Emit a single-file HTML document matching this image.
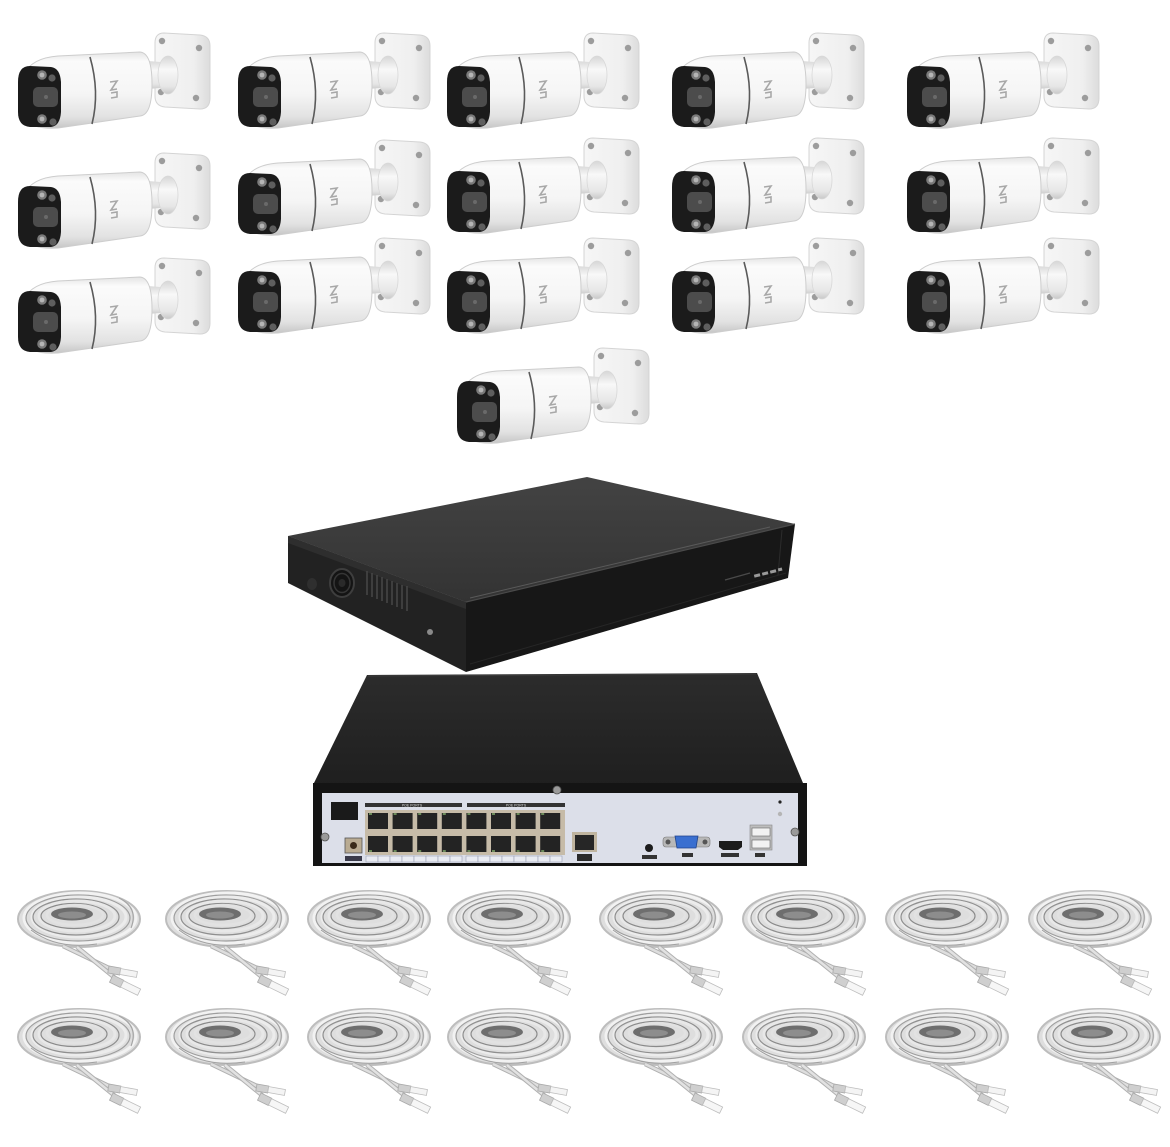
<!DOCTYPE html>
<html>
<head>
<meta charset="utf-8">
<style>
html,body{margin:0;padding:0;background:#ffffff;}
body{width:1170px;height:1147px;overflow:hidden;font-family:"Liberation Sans",sans-serif;}
svg{display:block;}
</style>
</head>
<body>
<svg width="1170" height="1147" viewBox="0 0 1170 1147" xmlns="http://www.w3.org/2000/svg">
<defs>
  <linearGradient id="bodyG" x1="0" y1="0" x2="0" y2="1">
    <stop offset="0" stop-color="#e4e4e4"/>
    <stop offset="0.12" stop-color="#fbfbfb"/>
    <stop offset="0.55" stop-color="#f5f5f5"/>
    <stop offset="0.85" stop-color="#e2e2e2"/>
    <stop offset="1" stop-color="#c6c6c6"/>
  </linearGradient>
  <linearGradient id="armG" x1="0" y1="0" x2="0" y2="1">
    <stop offset="0" stop-color="#d6d6d6"/>
    <stop offset="0.35" stop-color="#f8f8f8"/>
    <stop offset="0.8" stop-color="#e6e6e6"/>
    <stop offset="1" stop-color="#c8c8c8"/>
  </linearGradient>
  <linearGradient id="plateG" x1="0" y1="0" x2="1" y2="0">
    <stop offset="0" stop-color="#f6f6f6"/>
    <stop offset="0.7" stop-color="#efefef"/>
    <stop offset="1" stop-color="#dcdcdc"/>
  </linearGradient>
  <linearGradient id="topG" x1="0" y1="0" x2="0" y2="1">
    <stop offset="0" stop-color="#434343"/>
    <stop offset="1" stop-color="#333333"/>
  </linearGradient>
  <linearGradient id="top2G" x1="0" y1="0" x2="0" y2="1">
    <stop offset="0" stop-color="#2c2c2c"/>
    <stop offset="1" stop-color="#1f1f1f"/>
  </linearGradient>

  <g id="cam">
    <!-- mounting plate -->
    <path d="M146,1 L182,3 Q192,4 192,14 L192,66 Q192,77 182,77 L147,75 Q137,74 137,64 L137,11 Q137,1 146,1 Z" fill="url(#plateG)" stroke="#d4d4d4" stroke-width="1"/>
    <circle cx="144" cy="9" r="3.2" fill="#9c9c9c"/>
    <circle cx="181" cy="16" r="3.2" fill="#9c9c9c"/>
    <circle cx="143" cy="60" r="3.2" fill="#9c9c9c"/>
    <circle cx="178" cy="66" r="3.2" fill="#9c9c9c"/>
    <!-- arm -->
    <path d="M118,28 L142,30 L142,56 L118,58 Z" fill="url(#armG)"/>
    <ellipse cx="150" cy="43" rx="10" ry="19" fill="url(#armG)" stroke="#d8d8d8" stroke-width="0.8"/>
    <!-- body -->
    <path d="M6,42 Q14,26 40,24 L122,20 Q134,21 134,52 Q134,83 122,84 L40,96 Q10,98 3,82 Z" fill="url(#bodyG)" stroke="#cdcdcd" stroke-width="1"/>
    <!-- division line -->
    <path d="M72,25 Q82,60 74,92" fill="none" stroke="#5a5a5a" stroke-width="1.6"/>
    <!-- logo -->
    <path d="M92,50 L99,49 L93,58 L99,57 M93,61 L99,60 L99,65 L93,66" fill="none" stroke="#a8a8a8" stroke-width="1.6"/>
    <!-- face -->
    <path d="M12,34 L33,35 Q42,36 43,50 L43,80 Q42,94 33,95 L12,95 Q0,94 0,80 L0,50 Q0,34 12,34 Z" fill="#1b1b1b"/>
    <rect x="15" y="55" width="25" height="20" rx="5" fill="#4c4c4c"/>
    <circle cx="28" cy="65" r="2" fill="#6a6a6a"/>
    <circle cx="24" cy="43" r="4.8" fill="#7a7a7a"/>
    <circle cx="24" cy="43" r="2.4" fill="#b5b5b5"/>
    <circle cx="34" cy="46" r="3.6" fill="#5e5e5e"/>
    <circle cx="24" cy="87" r="4.8" fill="#7a7a7a"/>
    <circle cx="24" cy="87" r="2.4" fill="#b5b5b5"/>
    <circle cx="35" cy="90" r="3.6" fill="#5e5e5e"/>
  </g>

  <g id="cable">
    <ellipse cx="62" cy="29" rx="61" ry="28" fill="#dedede" stroke="#bdbdbd" stroke-width="2"/>
    <ellipse cx="63" cy="28" rx="56" ry="25" fill="none" stroke="#f2f2f2" stroke-width="3"/>
    <ellipse cx="61" cy="28" rx="52" ry="23" fill="none" stroke="#9e9e9e" stroke-width="1.2"/>
    <ellipse cx="62" cy="27" rx="47" ry="20" fill="none" stroke="#ececec" stroke-width="3"/>
    <ellipse cx="59" cy="27" rx="43" ry="18" fill="none" stroke="#8f8f8f" stroke-width="1.2"/>
    <ellipse cx="60" cy="26" rx="38" ry="15" fill="none" stroke="#e8e8e8" stroke-width="3"/>
    <ellipse cx="57" cy="26" rx="33" ry="12.5" fill="none" stroke="#8a8a8a" stroke-width="1.2"/>
    <ellipse cx="58" cy="25" rx="28" ry="10" fill="none" stroke="#e2e2e2" stroke-width="2.5"/>
    <ellipse cx="55" cy="24" rx="21" ry="6.5" fill="#6e6e6e"/>
    <ellipse cx="55" cy="25" rx="14" ry="3.5" fill="#8d8d8d"/>
    <path d="M102,8 Q122,18 114,38" fill="none" stroke="#a5a5a5" stroke-width="1.2"/>
    <path d="M14,40 Q40,60 80,54" fill="none" stroke="#a0a0a0" stroke-width="1.1"/>
    <!-- tails -->
    <path d="M46,56 L94,79" stroke="#b0b0b0" stroke-width="4.5" fill="none"/>
    <path d="M46,56 L94,79" stroke="#dedede" stroke-width="2.5" fill="none"/>
    <path d="M60,57 L98,88" stroke="#b0b0b0" stroke-width="4.5" fill="none"/>
    <path d="M60,57 L98,88" stroke="#e2e2e2" stroke-width="2.5" fill="none"/>
    <!-- connectors -->
    <g transform="translate(92,76) rotate(10)">
      <rect x="0" y="0" width="12" height="7" fill="#cfcfcf" stroke="#a9a9a9" stroke-width="0.8"/>
      <rect x="12" y="0.5" width="17" height="6" fill="#f4f4f4" stroke="#bdbdbd" stroke-width="0.8"/>
    </g>
    <g transform="translate(96,85) rotate(26)">
      <rect x="0" y="0" width="12" height="8" fill="#cfcfcf" stroke="#a9a9a9" stroke-width="0.8"/>
      <rect x="12" y="0.5" width="19" height="7" fill="#f6f6f6" stroke="#bdbdbd" stroke-width="0.8"/>
    </g>
  </g>
</defs>

<rect width="1170" height="1147" fill="#ffffff"/>

<!-- cameras -->
<use href="#cam" transform="translate(18,32)"/>
<use href="#cam" transform="translate(238,32)"/>
<use href="#cam" transform="translate(447,32)"/>
<use href="#cam" transform="translate(672,32)"/>
<use href="#cam" transform="translate(907,32)"/>

<use href="#cam" transform="translate(18,152)"/>
<use href="#cam" transform="translate(238,139)"/>
<use href="#cam" transform="translate(447,137)"/>
<use href="#cam" transform="translate(672,137)"/>
<use href="#cam" transform="translate(907,137)"/>

<use href="#cam" transform="translate(18,257)"/>
<use href="#cam" transform="translate(238,237)"/>
<use href="#cam" transform="translate(447,237)"/>
<use href="#cam" transform="translate(672,237)"/>
<use href="#cam" transform="translate(907,237)"/>

<use href="#cam" transform="translate(457,347)"/>

<!-- NVR 1 (top/front view) -->
<polygon points="288,536 587,477 795,524 466,602" fill="url(#topG)"/>
<polygon points="288,536 466,602 466,672 288,583" fill="#222222"/>
<polygon points="288,536 466,602 466,609 288,543" fill="#2e2e2e"/>
<polygon points="466,602 795,524 788,578 466,672" fill="#171717"/>
<line x1="470" y1="598" x2="770" y2="527" stroke="#5a5a5a" stroke-width="1"/>
<line x1="466" y1="602" x2="795" y2="524" stroke="#4a4a4a" stroke-width="1.2"/>
<line x1="470" y1="664" x2="786" y2="573" stroke="#262626" stroke-width="1"/>
<line x1="782" y1="530" x2="778" y2="575" stroke="#2c2c2c" stroke-width="1"/>
<!-- power button -->
<ellipse cx="312" cy="584" rx="5" ry="6" fill="#2f2f2f"/>
<!-- fan -->
<ellipse cx="342" cy="583" rx="12" ry="14" fill="#141414" stroke="#3e3e3e" stroke-width="2"/>
<ellipse cx="342" cy="583" rx="8" ry="9.5" fill="none" stroke="#363636" stroke-width="1.5"/>
<ellipse cx="342" cy="583" rx="3.5" ry="4" fill="#2a2a2a"/>
<!-- vents -->
<g stroke="#454545" stroke-width="1.6">
  <line x1="367" y1="571" x2="367" y2="595"/>
  <line x1="372" y1="573" x2="372" y2="597"/>
  <line x1="377" y1="575" x2="377" y2="599"/>
  <line x1="382" y1="577" x2="382" y2="601"/>
  <line x1="387" y1="579" x2="387" y2="603"/>
  <line x1="392" y1="581" x2="392" y2="605"/>
  <line x1="397" y1="583" x2="397" y2="607"/>
  <line x1="402" y1="585" x2="402" y2="609"/>
  <line x1="407" y1="586" x2="407" y2="611"/>
</g>
<circle cx="430" cy="632" r="3" fill="#8a8a8a"/>
<!-- front buttons -->
<line x1="725" y1="580" x2="750" y2="573" stroke="#4a4a4a" stroke-width="1.2"/>
<g fill="#9a9a9a">
  <rect x="754" y="574" width="6" height="3" transform="rotate(-14 757 575)"/>
  <rect x="762" y="572" width="6" height="3" transform="rotate(-14 765 573)"/>
  <rect x="770" y="570" width="6" height="3" transform="rotate(-14 773 571)"/>
  <rect x="778" y="568" width="4" height="3" transform="rotate(-14 780 569)"/>
</g>

<!-- NVR 2 (back view) -->
<polygon points="367,675 757,673 803,783 313,785" fill="url(#top2G)"/>
<line x1="368" y1="676" x2="756" y2="674" stroke="#3c3c3c" stroke-width="1"/>
<rect x="313" y="783" width="494" height="83" fill="#141414"/>
<rect x="322" y="793" width="476" height="70" fill="#dcdfe9"/>
<!-- screws -->
<circle cx="325" cy="837" r="4" fill="#9a9a9a" stroke="#555" stroke-width="0.8"/>
<circle cx="557" cy="790" r="4" fill="#9a9a9a" stroke="#555" stroke-width="0.8"/>
<circle cx="795" cy="832" r="4" fill="#9a9a9a" stroke="#555" stroke-width="0.8"/>
<!-- power box -->
<rect x="331" y="802" width="27" height="18" fill="#1a1a1a"/>
<!-- DC jack -->
<rect x="345" y="838" width="17" height="15" fill="#b9ab92" stroke="#555" stroke-width="0.8"/>
<circle cx="353.5" cy="845.5" r="3.5" fill="#3a2a1a"/>
<rect x="345" y="856" width="17" height="5" fill="#3a3a4a"/>
<!-- RJ45 block -->
<rect x="365" y="810" width="200" height="45" fill="#c6bba8"/>
<rect x="365" y="803" width="97" height="4" fill="#333"/>
<rect x="467" y="803" width="98" height="4" fill="#333"/>
<text x="412" y="806.5" font-size="3.5" fill="#ddd" text-anchor="middle" font-family="Liberation Sans, sans-serif">POE PORTS</text>
<text x="516" y="806.5" font-size="3.5" fill="#ddd" text-anchor="middle" font-family="Liberation Sans, sans-serif">POE PORTS</text>
<g fill="#232323">
  <rect x="368" y="813" width="20" height="16"/>
  <rect x="392.6" y="813" width="20" height="16"/>
  <rect x="417.2" y="813" width="20" height="16"/>
  <rect x="441.8" y="813" width="20" height="16"/>
  <rect x="466.4" y="813" width="20" height="16"/>
  <rect x="491" y="813" width="20" height="16"/>
  <rect x="515.6" y="813" width="20" height="16"/>
  <rect x="540.2" y="813" width="20" height="16"/>
  <rect x="368" y="836" width="20" height="16"/>
  <rect x="392.6" y="836" width="20" height="16"/>
  <rect x="417.2" y="836" width="20" height="16"/>
  <rect x="441.8" y="836" width="20" height="16"/>
  <rect x="466.4" y="836" width="20" height="16"/>
  <rect x="491" y="836" width="20" height="16"/>
  <rect x="515.6" y="836" width="20" height="16"/>
  <rect x="540.2" y="836" width="20" height="16"/>
</g>
<g fill="#6b8a5a">
  <rect x="369" y="813" width="3" height="2"/><rect x="393.6" y="813" width="3" height="2"/>
  <rect x="418.2" y="813" width="3" height="2"/><rect x="442.8" y="813" width="3" height="2"/>
  <rect x="467.4" y="813" width="3" height="2"/><rect x="492" y="813" width="3" height="2"/>
  <rect x="516.6" y="813" width="3" height="2"/><rect x="541.2" y="813" width="3" height="2"/>
  <rect x="369" y="850" width="3" height="2"/><rect x="393.6" y="850" width="3" height="2"/>
  <rect x="418.2" y="850" width="3" height="2"/><rect x="442.8" y="850" width="3" height="2"/>
  <rect x="467.4" y="850" width="3" height="2"/><rect x="492" y="850" width="3" height="2"/>
  <rect x="516.6" y="850" width="3" height="2"/><rect x="541.2" y="850" width="3" height="2"/>
</g>
<g fill="#e9ebf2" stroke="#9aa0b4" stroke-width="0.6">
  <rect x="366" y="856" width="12" height="6"/><rect x="378" y="856" width="12" height="6"/>
  <rect x="390" y="856" width="12" height="6"/><rect x="402" y="856" width="12" height="6"/>
  <rect x="414" y="856" width="12" height="6"/><rect x="426" y="856" width="12" height="6"/>
  <rect x="438" y="856" width="12" height="6"/><rect x="450" y="856" width="12" height="6"/>
  <rect x="466" y="856" width="12" height="6"/><rect x="478" y="856" width="12" height="6"/>
  <rect x="490" y="856" width="12" height="6"/><rect x="502" y="856" width="12" height="6"/>
  <rect x="514" y="856" width="12" height="6"/><rect x="526" y="856" width="12" height="6"/>
  <rect x="538" y="856" width="12" height="6"/><rect x="550" y="856" width="12" height="6"/>
</g>
<!-- LAN port -->
<rect x="572" y="832" width="25" height="20" fill="#bfb49f"/>
<rect x="575" y="835" width="19" height="15" fill="#262626"/>
<rect x="577" y="854" width="15" height="7" fill="#2a2a2a"/>
<!-- audio -->
<circle cx="649" cy="848" r="4" fill="#1c1c1c"/>
<rect x="642" y="855" width="15" height="4" fill="#333"/>
<!-- VGA -->
<rect x="663" y="837" width="47" height="10" rx="3" fill="#b8b8b8" stroke="#777" stroke-width="0.6"/>
<circle cx="668" cy="842" r="2.5" fill="#555"/>
<circle cx="705" cy="842" r="2.5" fill="#555"/>
<polygon points="675,836 698,836 696,848 677,848" fill="#3a6fd0" stroke="#22448a" stroke-width="0.8"/>
<rect x="682" y="853" width="11" height="4" fill="#333"/>
<!-- HDMI -->
<polygon points="719,841 742,841 742,847 738,850 723,850 719,847" fill="#1c1c1c"/>
<rect x="721" y="853" width="18" height="4" fill="#333"/>
<!-- USB -->
<rect x="750" y="825" width="22" height="25" fill="#bdbdbd" stroke="#888" stroke-width="0.6"/>
<rect x="752" y="828" width="18" height="8" fill="#f2f2f2" stroke="#666" stroke-width="0.6"/>
<rect x="752" y="840" width="18" height="8" fill="#f2f2f2" stroke="#666" stroke-width="0.6"/>
<rect x="755" y="853" width="10" height="4" fill="#333"/>
<circle cx="780" cy="802" r="1.6" fill="#222"/>
<circle cx="780" cy="814" r="2.2" fill="#b5b5b5"/>

<!-- cables -->
<use href="#cable" transform="translate(17,890)"/>
<use href="#cable" transform="translate(165,890)"/>
<use href="#cable" transform="translate(307,890)"/>
<use href="#cable" transform="translate(447,890)"/>
<use href="#cable" transform="translate(599,890)"/>
<use href="#cable" transform="translate(742,890)"/>
<use href="#cable" transform="translate(885,890)"/>
<use href="#cable" transform="translate(1028,890)"/>

<use href="#cable" transform="translate(17,1008)"/>
<use href="#cable" transform="translate(165,1008)"/>
<use href="#cable" transform="translate(307,1008)"/>
<use href="#cable" transform="translate(447,1008)"/>
<use href="#cable" transform="translate(599,1008)"/>
<use href="#cable" transform="translate(742,1008)"/>
<use href="#cable" transform="translate(885,1008)"/>
<use href="#cable" transform="translate(1037,1008)"/>
</svg>
</body>
</html>
